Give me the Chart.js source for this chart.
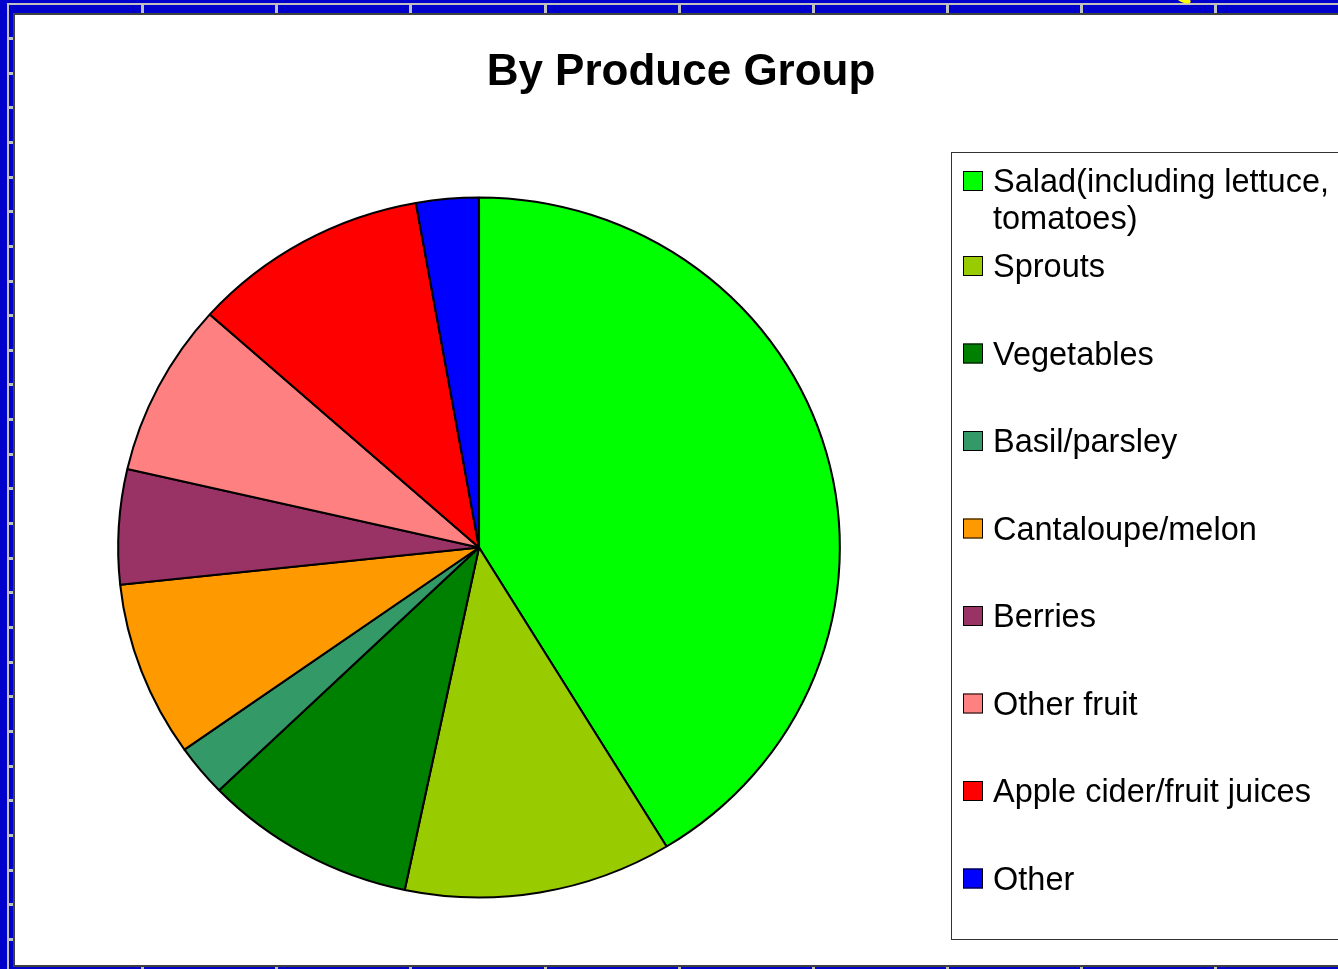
<!DOCTYPE html>
<html>
<head>
<meta charset="utf-8">
<script src="https://cdn.jsdelivr.net/npm/chart.js@4/dist/chart.umd.min.js"></script>
<style>
html,body{margin:0;padding:0;background:#0000CC;overflow:hidden}
canvas{display:block}
</style>
</head>
<body>
<canvas id="c" width="1338" height="969"></canvas>
<script>
// ---- data ----
const chartTitle = "By Produce Group";
const categories = [
  ["Salad(including lettuce,", "tomatoes)"],
  "Sprouts",
  "Vegetables",
  "Basil/parsley",
  "Cantaloupe/melon",
  "Berries",
  "Other fruit",
  "Apple cider/fruit juices",
  "Other"
];
const shares = [41.3, 12.0, 9.5, 2.4, 8.1, 5.3, 8.0, 10.6, 2.8];
const sliceColors = ["#00FF00", "#99CC00", "#008000", "#339966", "#FF9900", "#993366", "#FF8080", "#FF0000", "#0000FF"];

// ---- decoration plugins ----
const W = 1338, H = 969;
const framePlugin = {
  id: 'frame',
  beforeDraw(chart) {
    const ctx = chart.ctx;
    ctx.save();
    ctx.fillStyle = '#0000CC';
    ctx.fillRect(0, 0, W, H);
    ctx.fillStyle = '#C0C0C0';
    ctx.fillRect(7, 3, W - 7, 2);
    ctx.fillRect(7, 3, 2, H - 3);
    const xt = [142, 276, 410, 545, 679, 813, 947, 1081, 1215];
    xt.forEach(x => { ctx.fillRect(x - 1, 5, 3, 8); ctx.fillRect(x - 1, 967, 3, 2); });
    for (let y = 38; y < 950; y += 34.65) ctx.fillRect(9, Math.round(y) - 1, 4, 3);
    ctx.fillStyle = '#404040';
    ctx.fillRect(13, 13, W - 13, 2);
    ctx.fillRect(13, 13, 2, 954);
    ctx.fillRect(13, 965, W - 13, 2);
    ctx.fillStyle = '#FFFFFF';
    ctx.fillRect(15, 15, W - 15, 950);
    ctx.fillStyle = '#FFFF00';
    ctx.beginPath();
    ctx.ellipse(1184, 0, 7, 3, 0.3, 0, Math.PI * 2);
    ctx.fill();
    ctx.restore();
  }
};
const ellipsePlugin = {
  id: 'ellipse',
  beforeDatasetsDraw(chart) {
    const ctx = chart.ctx, a = chart.chartArea;
    const cx = (a.left + a.right) / 2, cy = (a.top + a.bottom) / 2;
    ctx.save();
    ctx.translate(cx, cy);
    ctx.scale(1.031, 1);
    ctx.translate(-cx, -cy);
  },
  afterDatasetsDraw(chart) { chart.ctx.restore(); }
};
const overlayPlugin = {
  id: 'overlay',
  afterDraw(chart) {
    const ctx = chart.ctx;
    ctx.save();
    ctx.fillStyle = '#000';
    ctx.textAlign = 'center';
    ctx.textBaseline = 'alphabetic';
    ctx.font = "bold 44px 'Liberation Sans', Arial, sans-serif";
    ctx.fillText(chartTitle, 681, 85);
    // legend box
    ctx.strokeStyle = '#333';
    ctx.lineWidth = 1;
    ctx.strokeRect(951.5, 152.5, 500, 787);
    ctx.font = "32.5px 'Liberation Sans', Arial, sans-serif";
    ctx.textAlign = 'left';
    const labels = chart.data.labels;
    const colors = chart.data.datasets[0].backgroundColor;
    labels.forEach((lab, i) => {
      const base = i === 0 ? 192 : 277 + (i - 1) * 87.5;
      ctx.fillStyle = colors[i];
      ctx.fillRect(963, base - 21, 20, 20);
      ctx.strokeStyle = '#000';
      ctx.strokeRect(963.5, base - 20.5, 19, 19);
      ctx.fillStyle = '#000';
      const lines = Array.isArray(lab) ? lab : [lab];
      lines.forEach((t, k) => ctx.fillText(t, 993, base + k * 37));
    });
    ctx.restore();
  }
};

new Chart(document.getElementById('c'), {
  type: 'pie',
  data: {
    labels: categories,
    datasets: [{
      data: shares,
      backgroundColor: sliceColors,
      borderColor: '#000000',
      borderWidth: 2,
      hoverOffset: 0
    }]
  },
  options: {
    responsive: false,
    devicePixelRatio: 1,
    animation: false,
    layout: { padding: { top: 196, bottom: 70, left: 128, right: 508 } },
    plugins: {
      legend: { display: false },
      title: { display: false },
      tooltip: { enabled: false }
    }
  },
  plugins: [framePlugin, ellipsePlugin, overlayPlugin]
});
</script>
</body>
</html>
